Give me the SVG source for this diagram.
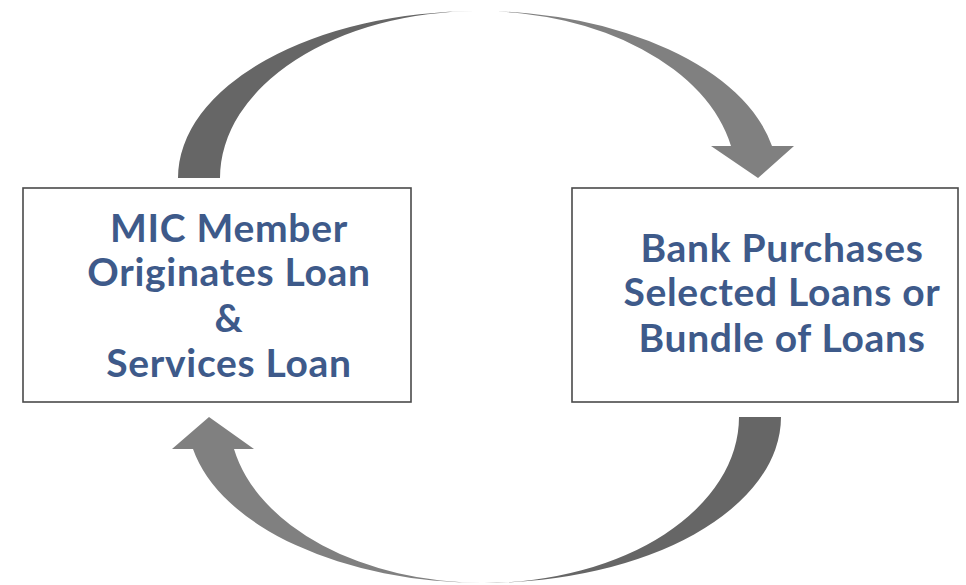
<svg xmlns="http://www.w3.org/2000/svg" width="966" height="585" viewBox="0 0 966 585">
<style>
.box{fill:#ffffff;stroke:#4a4a4a;stroke-width:1.6}
.lbl{font-family:Lato,"Open Sans","Liberation Sans",sans-serif;font-weight:bold;font-size:39px;letter-spacing:0.7px;fill:#3e5a8a;text-anchor:middle}
</style>
<defs>
<linearGradient id="gTop" gradientUnits="userSpaceOnUse" x1="420" y1="0" x2="540" y2="0">
<stop offset="0" stop-color="#666666"/>
<stop offset="1" stop-color="#808080"/>
</linearGradient>
<linearGradient id="gBot" gradientUnits="userSpaceOnUse" x1="420" y1="0" x2="540" y2="0">
<stop offset="0" stop-color="#808080"/>
<stop offset="1" stop-color="#666666"/>
</linearGradient>
</defs>
<rect width="966" height="585" fill="#ffffff"/>
<g id="connectors">
<path id="arrowTop" fill="url(#gTop)" d="M178,178 A300,167 0 0 1 478,11 A300,167 0 0 1 772,146 L794,146 L758,178 L711,146 L731,146 A258,167 0 0 0 478,11 A258,167 0 0 0 220,178 Z"/>
<path id="arrowBot" fill="url(#gBot)" d="M781,417 A297,166 0 0 1 484,583 A297,166 0 0 1 193,449 L172,449 L209,417 L254,449 L234,449 A255,166 0 0 0 484,583 A255,166 0 0 0 739,417 Z"/>
</g>
<g id="node-mic">
<rect class="box" x="23" y="188" width="388" height="214"/>
<text class="lbl" x="229" y="242">MIC Member</text>
<text class="lbl" x="229" y="286">Originates Loan</text>
<text class="lbl" x="229" y="332">&amp;</text>
<text class="lbl" x="229" y="377">Services Loan</text>
</g>
<g id="node-bank">
<rect class="box" x="572" y="188" width="386" height="214"/>
<text class="lbl" x="782" y="262">Bank Purchases</text>
<text class="lbl" x="782" y="306">Selected Loans or</text>
<text class="lbl" x="782" y="352">Bundle of Loans</text>
</g>
</svg>
